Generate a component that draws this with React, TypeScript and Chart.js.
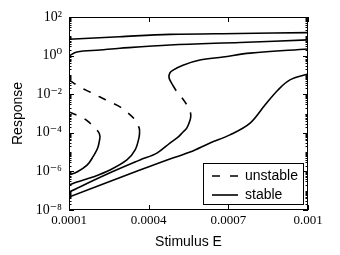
import React, { useEffect, useRef } from 'react';
import { Chart, registerables } from 'chart.js';

Chart.register(...registerables);

// ---- axis ticks / labels ----
const xTicks = [0.0001, 0.0004, 0.0007, 0.001];
const xTickLabels = ['0.0001', '0.0004', '0.0007', '0.001'];
const yMajorTicks = [1e-8, 1e-6, 1e-4, 1e-2, 1, 100];
const yTickLabels = ['10⁻⁸', '10⁻⁶', '10⁻⁴', '10⁻²', '10⁰', '10²'];
const legendLabels = ['unstable', 'stable'];

// ---- curves (x = stimulus E, y = response) ----
// top stable branch
const topX = [0.0001, 0.00029, 0.00048, 0.00074, 0.001];
const topY = [7.0, 9.5, 12.6, 14.0, 15.5];
// second stable branch
const upper2X = [0.0001, 0.00013, 0.000217, 0.000292, 0.00048, 0.000744, 0.001];
const upper2Y = [0.95, 1.55, 1.95, 2.4, 3.55, 4.8, 6.5];

// curve A (fold near 0.00037)
const aMidX = [0.0001, 0.000141, 0.000179, 0.000217, 0.000254, 0.000292, 0.000318, 0.000349, 0.000364, 0.000366];
const aMidY = [0.055, 0.0234, 0.0129, 0.0071, 0.004, 0.0022, 0.0012, 4.6e-4, 1.8e-4, 1.23e-4];
const aLowX = [0.000366, 0.000364, 0.000349, 0.000318, 0.000254, 0.00019, 0.00013, 0.0001];
const aLowY = [1.23e-4, 6.0e-5, 1.29e-5, 3.9e-6, 1.17e-6, 5.1e-7, 2.8e-7, 2.0e-7];

// curve B (fold near 0.00022)
const bMidX = [0.0001, 0.000153, 0.000179, 0.000198, 0.000213, 0.000217];
const bMidY = [1.2e-3, 5.9e-4, 3.2e-4, 1.8e-4, 9.8e-5, 6.0e-5];
const bLowX = [0.000217, 0.000209, 0.00019, 0.000168, 0.00013, 0.0001];
const bLowY = [6.0e-5, 1.8e-5, 5.6e-6, 2.1e-6, 9.3e-7, 6.5e-7];

// curve C (S-shape between 0.00047 and 0.00056)
const cUpperX = [0.000488, 0.000477, 0.00048, 0.000492, 0.000529, 0.000593, 0.00068, 0.000782, 0.001];
const cUpperY = [0.034, 0.069, 0.126, 0.178, 0.32, 0.59, 0.85, 1.35, 2.2];
const cMidX = [0.000488, 0.000507, 0.000526, 0.000544, 0.000556, 0.000559];
const cMidY = [0.034, 0.0129, 0.0063, 0.00275, 0.00135, 0.00074];
const cLowX = [0.000559, 0.000556, 0.000544, 0.000526, 0.000507, 0.00048, 0.000431, 0.000367, 0.000236, 0.0001];
const cLowY = [7.4e-4, 4.6e-4, 1.8e-4, 9.8e-5, 5.4e-5, 2.95e-5, 8.9e-6, 3.9e-6, 6.5e-7, 8.5e-8];

// curve D (monotone)
const dX = [0.0001, 0.000367, 0.00048, 0.000556, 0.000631, 0.000706, 0.000782, 0.000838, 0.000887, 0.000932, 0.001];
const dY = [4.7e-8, 1.17e-6, 4.4e-6, 1e-5, 2.95e-5, 7.8e-5, 3.2e-4, 2.75e-3, 0.0166, 0.055, 0.112];

const DASH = [8, 9];
const LINE_W = 1.6;

const pts = (xs: number[], ys: number[]) => xs.map((x, i) => ({ x, y: ys[i] }));

const majorIndex = (v: number) =>
  yMajorTicks.findIndex((m) => Math.abs(Math.log10(v) - Math.log10(m)) < 1e-6);

const yAllTicks: number[] = (() => {
  const out: number[] = [];
  for (let e = -8; e <= 1; e++) {
    for (let k = 1; k <= 9; k++) out.push(k * Math.pow(10, e));
  }
  out.push(100);
  return out;
})();

const framePlugin = {
  id: 'frameTicks',
  afterDatasetsDraw(chart: any) {
    const { ctx, chartArea: a, scales } = chart;
    const ys = scales.y;
    const xs = scales.x;
    ctx.save();
    ctx.strokeStyle = '#000';
    ctx.lineWidth = 1;
    ctx.setLineDash([]);
    const seg = (x1: number, y1: number, x2: number, y2: number) => {
      ctx.beginPath();
      ctx.moveTo(x1, y1);
      ctx.lineTo(x2, y2);
      ctx.stroke();
    };
    ys.ticks.forEach((t: any) => {
      const py = Math.round(ys.getPixelForValue(t.value)) + 0.5;
      const len = majorIndex(t.value) >= 0 ? 5 : 2.5;
      seg(a.left, py, a.left + len, py);
      seg(a.right, py, a.right - len, py);
    });
    xs.ticks.forEach((t: any) => {
      const px = Math.round(xs.getPixelForValue(t.value)) + 0.5;
      seg(px, a.bottom, px, a.bottom - 5);
      seg(px, a.top, px, a.top + 5);
    });
    const l = Math.round(a.left) + 0.5;
    const tp = Math.round(a.top) + 0.5;
    const r = Math.round(a.right) - 0.5;
    const b = Math.round(a.bottom) - 0.5;
    ctx.strokeRect(l, tp, r - l, b - tp);
    ctx.restore();
  },
};

const legendPlugin = {
  id: 'boxLegend',
  afterDraw(chart: any) {
    const { ctx, chartArea: a } = chart;
    const w = 100;
    const h = 41;
    const x0 = Math.round(a.right) - 5 - w;
    const y0 = Math.round(a.bottom) - 6 - h;
    ctx.save();
    ctx.fillStyle = '#fff';
    ctx.fillRect(x0, y0, w, h);
    ctx.strokeStyle = '#000';
    ctx.lineWidth = 1;
    ctx.setLineDash([]);
    ctx.strokeRect(x0 + 0.5, y0 + 0.5, w, h);
    ctx.font = '14px "Liberation Sans", Arial, sans-serif';
    ctx.textBaseline = 'middle';
    ctx.textAlign = 'left';
    ctx.fillStyle = '#000';
    legendLabels.forEach((label, i) => {
      const cy = y0 + 13 + i * 19;
      ctx.lineWidth = LINE_W;
      ctx.setLineDash(i === 0 ? [8, 10] : []);
      ctx.beginPath();
      ctx.moveTo(x0 + 9, cy);
      ctx.lineTo(x0 + 35, cy);
      ctx.stroke();
      ctx.setLineDash([]);
      ctx.fillText(label, x0 + 42, cy);
    });
    ctx.restore();
  },
};

export default function App() {
  const ref = useRef<HTMLCanvasElement | null>(null);

  useEffect(() => {
    if (!ref.current) return;
    const solid = {
      borderColor: '#000',
      borderWidth: LINE_W,
      pointRadius: 0,
      showLine: true,
      tension: 0.35,
      fill: false,
    };
    const dashed = { ...solid, borderDash: DASH };
    const chart = new Chart(ref.current, {
      type: 'scatter',
      data: {
        datasets: [
          { data: pts(topX, topY), ...solid },
          { data: pts(upper2X, upper2Y), ...solid },
          { data: pts(aMidX, aMidY), ...dashed },
          { data: pts(aLowX, aLowY), ...solid },
          { data: pts(bMidX, bMidY), ...dashed },
          { data: pts(bLowX, bLowY), ...solid },
          { data: pts(cUpperX, cUpperY), ...solid },
          { data: pts(cMidX, cMidY), ...dashed },
          { data: pts(cLowX, cLowY), ...solid },
          { data: pts(dX, dY), ...solid },
        ] as any,
      },
      options: {
        animation: false,
        responsive: false,
        maintainAspectRatio: false,
        layout: { padding: { left: 0, top: 17, right: 32, bottom: 0 } },
        plugins: { legend: { display: false }, tooltip: { enabled: false } },
        scales: {
          x: {
            type: 'linear',
            position: 'bottom',
            min: 0.0001,
            max: 0.001,
            afterBuildTicks: (s: any) => {
              s.ticks = xTicks.map((v) => ({ value: v }));
            },
            afterFit: (s: any) => {
              s.height = 45;
            },
            grid: { display: false, drawTicks: false },
            border: { display: false },
            ticks: {
              autoSkip: false,
              maxRotation: 0,
              padding: 3,
              color: '#000',
              font: { family: '"Liberation Serif", "DejaVu Serif", serif', size: 13 },
              callback: (_v: any, i: number) => xTickLabels[i],
            },
            title: {
              display: true,
              text: 'Stimulus E',
              color: '#000',
              font: { family: '"Liberation Sans", Arial, sans-serif', size: 14 },
              padding: { top: 0, bottom: 4.6 },
            },
          },
          y: {
            type: 'logarithmic',
            position: 'left',
            min: 1e-8,
            max: 100,
            afterBuildTicks: (s: any) => {
              s.ticks = yAllTicks.map((v) => ({ value: v, major: majorIndex(v) >= 0 }));
            },
            afterFit: (s: any) => {
              s.width = 69;
            },
            grid: { display: false, drawTicks: false },
            border: { display: false },
            ticks: {
              autoSkip: false,
              padding: 7,
              color: '#000',
              font: { family: '"Liberation Serif", "DejaVu Serif", serif', size: 14 },
              callback: (v: any) => {
                const i = majorIndex(Number(v));
                return i >= 0 ? yTickLabels[i] : '';
              },
            },
            title: {
              display: true,
              text: 'Response',
              color: '#000',
              font: { family: '"Liberation Sans", Arial, sans-serif', size: 14 },
              padding: { top: 9.6, bottom: 0 },
            },
          },
        },
      },
      plugins: [framePlugin, legendPlugin],
    } as any);
    return () => chart.destroy();
  }, []);

  return (
    <div style={{ position: 'fixed', left: 0, top: 0, width: 340, height: 255, background: '#fff' }}>
      <canvas ref={ref} width={340} height={255} style={{ display: 'block', width: 340, height: 255 }} />
    </div>
  );
}
